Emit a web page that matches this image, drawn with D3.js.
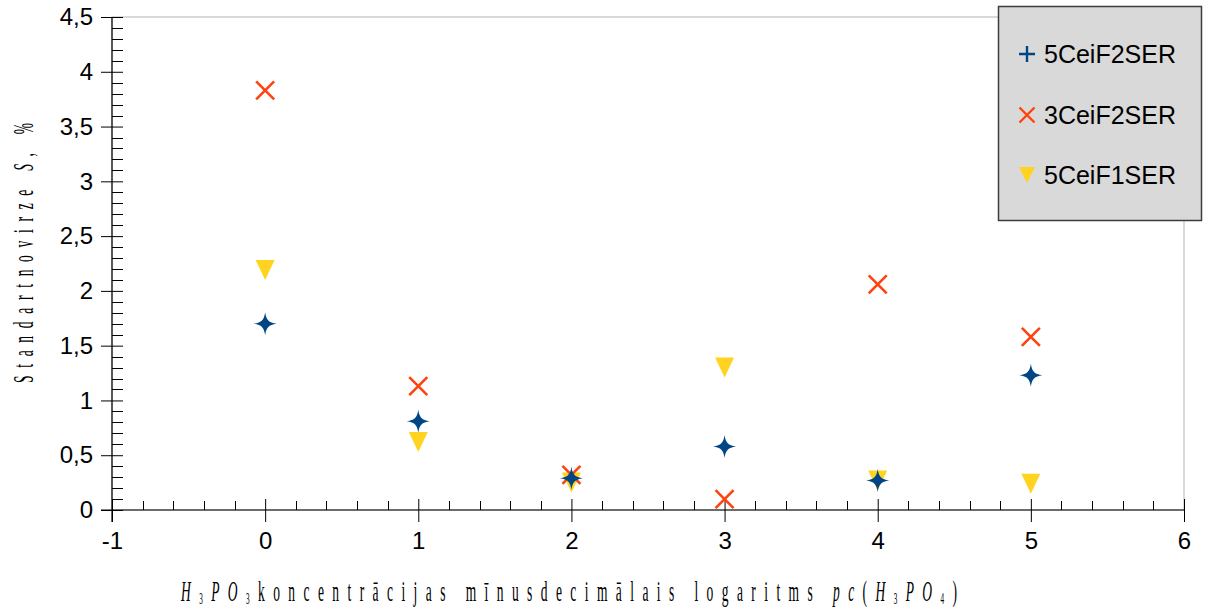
<!DOCTYPE html>
<html>
<head>
<meta charset="utf-8">
<script src="https://cdn.jsdelivr.net/npm/d3@7"></script>
<style>
  html, body { margin: 0; padding: 0; background: #ffffff; }
  svg { display: block; }
</style>
</head>
<body>
<svg id="chart" width="1206" height="611"></svg>
<script>
// pc(H3PO4) levels on the x axis
const xValues = [0, 1, 2, 3, 4, 5];

// Standard deviation S, % for each sample series
const series5CeiF2SER = [1.70, 0.81, 0.29, 0.58, 0.27, 1.23];
const series3CeiF2SER = [3.83, 1.13, 0.32, 0.10, 2.06, 1.58];
const series5CeiF1SER = [2.19, 0.62, 0.25, 1.30, 0.27, 0.24];

const seriesNames = ["5CeiF2SER", "3CeiF2SER", "5CeiF1SER"];
const seriesColors = ["#004586", "#ff420e", "#ffd320"];

// Axis ticks
const xMajorTicks = [-1, 0, 1, 2, 3, 4, 5, 6];
const xTickLabels = ["-1", "0", "1", "2", "3", "4", "5", "6"];
const yMajorTicks = [0, 0.5, 1, 1.5, 2, 2.5, 3, 3.5, 4, 4.5];
const yTickLabels = ["0", "0,5", "1", "1,5", "2", "2,5", "3", "3,5", "4", "4,5"];

const svg = d3.select("#chart");

const x = d3.scaleLinear().domain([-1, 6]).range([112, 1184]);
const y = d3.scaleLinear().domain([0, 4.5]).range([510, 17]);

// Plot frame (top and right edges in light grey)
svg.append("rect")
  .attr("x", x(-1)).attr("y", y(4.5))
  .attr("width", x(6) - x(-1)).attr("height", y(0) - y(4.5))
  .attr("fill", "none").attr("stroke", "#b3b3b3").attr("stroke-width", 1);

// Minor ticks
const yMinor = d3.range(0, 45).map(i => i / 10).filter(v => Math.abs(v * 2 - Math.round(v * 2)) > 1e-6);
svg.append("g").selectAll("line").data(yMinor).join("line")
  .attr("x1", x(-1)).attr("x2", x(-1) + 11)
  .attr("y1", d => Math.round(y(d)) + 0.5).attr("y2", d => Math.round(y(d)) + 0.5)
  .attr("stroke", "#000").attr("stroke-width", 1);

const xMinor = d3.range(-5, 30).map(i => i / 5).filter(v => Math.abs(v - Math.round(v)) > 1e-6);
svg.append("g").selectAll("line").data(xMinor).join("line")
  .attr("x1", d => Math.round(x(d)) + 0.5).attr("x2", d => Math.round(x(d)) + 0.5)
  .attr("y1", y(0) - 9).attr("y2", y(0))
  .attr("stroke", "#000").attr("stroke-width", 1);

// Y axis
const yAxis = d3.axisLeft(y)
  .tickValues(yMajorTicks)
  .tickFormat((d, i) => yTickLabels[i])
  .tickSizeInner(11).tickSizeOuter(0).tickPadding(8);
const gy = svg.append("g").attr("transform", `translate(${x(-1)},0)`).call(yAxis);
gy.select(".domain").remove();
gy.selectAll(".tick line").clone().attr("x2", 11);
gy.selectAll(".tick text")
  .attr("font-family", "'Liberation Sans', Arial, sans-serif")
  .attr("font-size", 24).attr("fill", "#000");

// X axis
const xAxis = d3.axisBottom(x)
  .tickValues(xMajorTicks)
  .tickFormat((d, i) => xTickLabels[i])
  .tickSizeInner(12).tickSizeOuter(0).tickPadding(10);
const gx = svg.append("g").attr("transform", `translate(0,${y(0)})`).call(xAxis);
gx.select(".domain").remove();
gx.selectAll(".tick line").clone().attr("y2", -11);
gx.selectAll(".tick text")
  .attr("font-family", "'Liberation Sans', Arial, sans-serif")
  .attr("font-size", 24).attr("fill", "#000");

// Axis lines
svg.append("line")
  .attr("x1", x(-1)).attr("x2", x(-1)).attr("y1", y(4.5)).attr("y2", y(0) + 12)
  .attr("stroke", "#000").attr("stroke-width", 1.2);
svg.append("line")
  .attr("x1", x(-1) - 11).attr("x2", x(6)).attr("y1", y(0)).attr("y2", y(0))
  .attr("stroke", "#000").attr("stroke-width", 1.2);

// Marker shapes
const starPath = "M0,-11.5 C1.2,-3.5 3.5,-1.2 11.5,0 C3.5,1.2 1.2,3.5 0,11.5 C-1.2,3.5 -3.5,1.2 -11.5,0 C-3.5,-1.2 -1.2,-3.5 0,-11.5 Z";
const triPath = "M-9.5,-10 L9.5,-10 L0,10 Z";

const pts = (vals) => xValues.map((xv, i) => ({ x: xv, y: vals[i] }));

// 5CeiF1SER: downward triangles
svg.append("g").selectAll("path").data(pts(series5CeiF1SER)).join("path")
  .attr("d", triPath)
  .attr("transform", d => `translate(${x(d.x)},${y(d.y)})`)
  .attr("fill", seriesColors[2]);

// 3CeiF2SER: crosses
const xg = svg.append("g").selectAll("g").data(pts(series3CeiF2SER)).join("g")
  .attr("transform", d => `translate(${x(d.x)},${y(d.y)})`);
xg.append("path").attr("d", "M-9,-9 L9,9 M-9,9 L9,-9")
  .attr("stroke", seriesColors[1]).attr("stroke-width", 2.6).attr("fill", "none");

// 5CeiF2SER: four-point stars
svg.append("g").selectAll("path").data(pts(series5CeiF2SER)).join("path")
  .attr("d", starPath)
  .attr("transform", d => `translate(${x(d.x)},${y(d.y)})`)
  .attr("fill", seriesColors[0]);

// Legend
const legend = svg.append("g");
legend.append("rect")
  .attr("x", 998.5).attr("y", 6.5).attr("width", 203).attr("height", 214)
  .attr("fill", "#d9d9d9").attr("stroke", "#3c3c3c").attr("stroke-width", 1.5);
const legendY = [54, 115, 175];
const legendSymbols = [
  g => g.append("path").attr("d", "M-8,0 L8,0 M0,-8 L0,8").attr("stroke", seriesColors[0]).attr("stroke-width", 2.4),
  g => g.append("path").attr("d", "M-7.5,-7.5 L7.5,7.5 M-7.5,7.5 L7.5,-7.5").attr("stroke", seriesColors[1]).attr("stroke-width", 2.4),
  g => g.append("path").attr("d", "M-8,-8 L8,-8 L0,8 Z").attr("fill", seriesColors[2])
];
seriesNames.forEach((name, i) => {
  const g = legend.append("g").attr("transform", `translate(1027,${legendY[i]})`);
  legendSymbols[i](g);
  legend.append("text")
    .attr("x", 1044).attr("y", legendY[i])
    .attr("dy", "0.36em")
    .attr("font-family", "'Liberation Sans', Arial, sans-serif")
    .attr("font-size", 25).attr("fill", "#000")
    .text(name);
});

// Axis titles (narrow, widely spaced serif)
const serif = "'Liberation Serif', 'Times New Roman', serif";
const squeeze = 0.45;

function addParts(textSel, parts) {
  parts.forEach(p => {
    const t = textSel.append("tspan").text(p.t);
    if (p.i) t.attr("font-style", "italic");
    if (p.sub) t.attr("font-size", 16).attr("dy", 3);
    if (p.back) t.attr("dy", -3);
  });
}

const xTitleParts = [
  { t: "H", i: true }, { t: "3", sub: true }, { t: "PO", i: true, back: true }, { t: "3", sub: true },
  { t: "koncentrācijas mīnusdecimālais logaritms ", back: true },
  { t: "pc", i: true }, { t: "(" }, { t: "H", i: true }, { t: "3", sub: true },
  { t: "PO", i: true, back: true }, { t: "4", sub: true }, { t: ")", back: true }
];
const xTitleG = svg.append("g").attr("transform", `translate(181,601) scale(${squeeze},1)`);
const xTitle = xTitleG.append("text")
  .attr("x", 0).attr("y", 0)
  .attr("font-family", serif).attr("font-size", 30).attr("fill", "#000")
  .attr("textLength", 776 / squeeze).attr("lengthAdjust", "spacing");
addParts(xTitle, xTitleParts);

const yTitleParts = [
  { t: "Standartnovirze " }, { t: "S", i: true }, { t: ", %" }
];
const yTitleG = svg.append("g").attr("transform", `translate(33,383) rotate(-90) scale(${squeeze},1)`);
const yTitle = yTitleG.append("text")
  .attr("x", 0).attr("y", 0)
  .attr("font-family", serif).attr("font-size", 30).attr("fill", "#000")
  .attr("textLength", 260 / squeeze).attr("lengthAdjust", "spacing");
addParts(yTitle, yTitleParts);
</script>
</body>
</html>
